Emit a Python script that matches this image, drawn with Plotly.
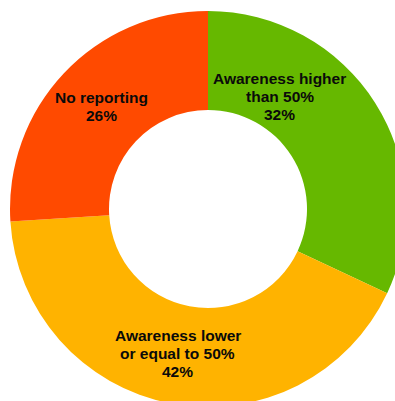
import plotly.graph_objects as go

# Awareness reporting shares
categories = ["Awareness higher than 50%", "Awareness lower or equal to 50%", "No reporting"]
shares = [32, 42, 26]
colors = ["#66B800", "#FFB300", "#FF4A00"]

# wrapped label lines for each slice (value appended below)
label_lines = [["Awareness higher", "than 50%"], ["Awareness lower", "or equal to 50%"], ["No reporting"]]

# label block centres (paper coordinates) for each slice
label_x = [0.681, 0.424, 0.230]
label_y = [0.785, 0.134, 0.760]

PLOT_PX = 396          # plot area side in pixels
LINE_PX = 18           # line pitch of the labels in pixels

fig = go.Figure(
    go.Pie(
        labels=categories,
        values=shares,
        hole=0.5,
        sort=False,
        direction="clockwise",
        rotation=0,
        marker=dict(colors=colors, line=dict(width=0)),
        textinfo="none",
        hoverinfo="label+percent",
        showlegend=False,
    )
)

for lines, val, x, y in zip(label_lines, shares, label_x, label_y):
    rows = lines + [f"{val}%"]
    n = len(rows)
    for i, row in enumerate(rows):
        dy = ((n - 1) / 2 - i) * LINE_PX / PLOT_PX
        fig.add_annotation(
            x=x, y=y + dy, xref="paper", yref="paper",
            xanchor="center", yanchor="middle",
            text=f"<b>{row}</b>",
            showarrow=False,
            align="center",
            font=dict(family="Liberation Sans, Arial, sans-serif", size=15.5, color="#0a0a0a"),
        )

fig.update_layout(
    width=420,
    height=420,
    margin=dict(l=10, r=14, t=11, b=13),
    paper_bgcolor="white",
    plot_bgcolor="white",
)

fig.write_html("out.html", post_script="document.body.style.overflow='hidden';document.body.style.margin='0';")
